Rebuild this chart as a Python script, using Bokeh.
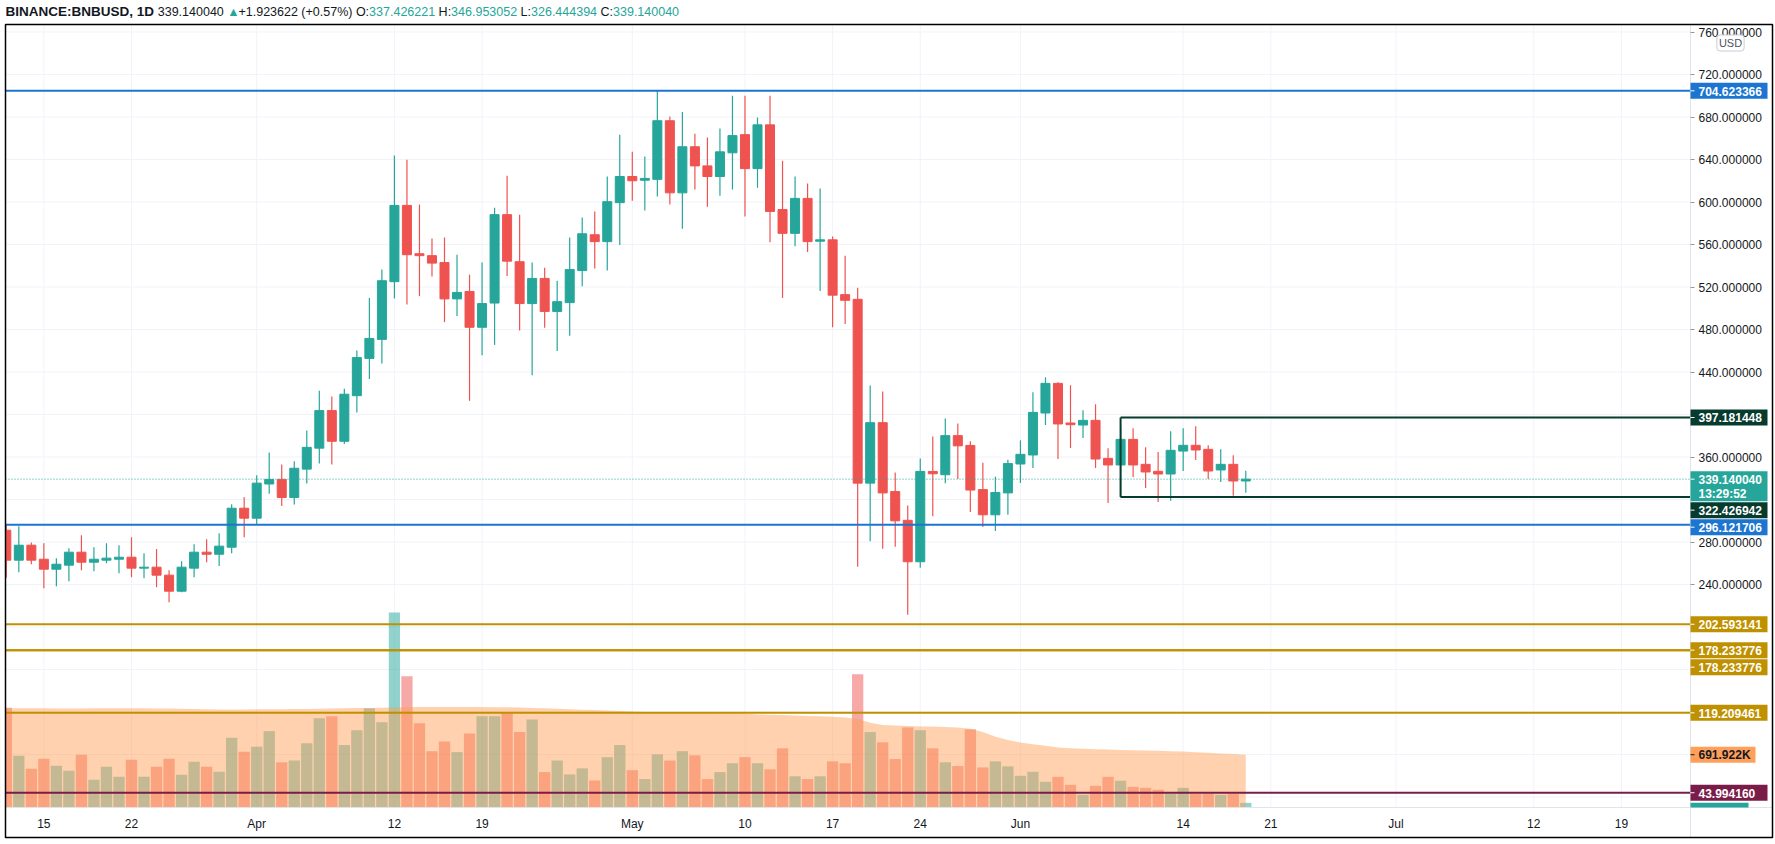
import pandas as pd
from bokeh.plotting import figure
from bokeh.models import Range1d, LinearAxis, FixedTicker, PrintfTickFormatter, ColumnDataSource
from bokeh.core.properties import value
from bokeh.embed import file_html
from bokeh.resources import INLINE

# ---------------- data ----------------
start_date = "2021-03-12"
opens = [291.1, 262.9, 277.0, 263.8, 254.4, 258.2, 270.4, 261.0, 262.9, 263.8,
         265.7, 255.4, 256.3, 248.8, 233.7, 255.4, 270.4, 268.5, 275.1, 311.8,
         302.4, 334.6, 338.9, 321.9, 348.6, 368.3, 403.7, 374.8, 417.7, 452.8,
         470.7, 525.0, 596.8, 551.3, 549.5, 543.0, 508.8, 515.8, 482.1, 504.9,
         588.1, 543.8, 504.4, 528.1, 497.0, 505.3, 535.5, 569.2, 562.7, 599.4,
         624.0, 620.5, 621.3, 676.5, 608.6, 652.0, 634.0, 624.0, 646.3, 663.4,
         631.4, 672.6, 592.9, 570.5, 603.4, 563.1, 564.4, 512.8, 508.4, 335.4,
         392.3, 327.5, 300.4, 261.4, 346.4, 343.3, 380.1, 370.9, 329.3, 305.6,
         326.2, 353.4, 361.9, 401.4, 429.3, 392.0, 390.1, 394.5, 358.7, 352.5,
         376.6, 353.1, 346.5, 344.0, 365.6, 371.0, 367.2, 347.8, 353.1, 337.426221]
highs = [297.0, 294.9, 279.5, 278.9, 264.8, 274.2, 286.4, 275.1, 278.9, 277.0,
         284.5, 269.5, 273.3, 253.5, 262.0, 278.0, 282.7, 288.3, 315.6, 322.2,
         342.9, 364.3, 352.9, 356.0, 384.9, 422.4, 416.9, 424.3, 460.2, 509.7,
         536.4, 643.7, 639.7, 597.7, 565.7, 566.6, 550.4, 531.6, 543.0, 594.6,
         624.8, 588.1, 543.0, 538.1, 525.9, 566.6, 585.4, 591.1, 624.0, 663.4,
         647.2, 642.8, 704.5, 680.4, 684.8, 664.2, 660.7, 669.1, 700.1, 700.1,
         679.6, 700.1, 638.8, 624.0, 617.4, 612.6, 567.5, 549.5, 519.4, 427.4,
         421.7, 345.5, 314.4, 358.6, 379.2, 396.3, 391.5, 374.8, 354.7, 341.5,
         357.3, 375.7, 420.9, 435.0, 430.3, 427.5, 403.9, 409.6, 368.2, 390.0,
         387.0, 369.1, 364.7, 384.2, 387.0, 388.9, 371.0, 367.2, 361.6, 346.953052]
lows = [246.3, 251.6, 259.1, 236.5, 238.4, 243.1, 253.5, 252.5, 260.1, 250.7,
        246.9, 246.0, 237.5, 223.4, 232.8, 246.9, 261.0, 257.3, 269.5, 284.5,
        296.8, 325.4, 314.0, 315.3, 335.0, 353.8, 352.9, 372.2, 402.0, 433.5,
        448.0, 509.2, 503.6, 511.4, 529.8, 486.9, 492.6, 412.9, 455.8, 465.5,
        530.3, 479.0, 437.0, 481.7, 459.8, 474.2, 520.6, 537.3, 535.5, 559.6,
        601.2, 592.0, 605.1, 597.7, 574.9, 611.7, 595.5, 606.0, 611.7, 586.3,
        613.5, 562.2, 509.7, 558.3, 553.0, 516.3, 482.1, 485.2, 256.6, 280.7,
        273.7, 275.5, 211.5, 255.7, 304.3, 335.4, 339.4, 308.3, 294.2, 290.3,
        305.6, 335.5, 349.6, 390.1, 358.1, 368.5, 377.9, 349.6, 316.7, 322.0,
        341.2, 330.8, 317.6, 318.9, 346.8, 357.2, 339.3, 336.5, 323.6, 326.444394]
closes = [262.9, 277.0, 262.9, 254.4, 259.1, 270.4, 261.0, 263.8, 264.8, 265.7,
          255.4, 256.3, 248.8, 233.7, 256.3, 270.4, 268.5, 276.1, 311.8, 302.4,
          335.4, 338.9, 321.9, 349.4, 369.1, 403.7, 374.8, 419.1, 453.6, 471.6,
          525.9, 596.8, 550.4, 549.5, 542.5, 508.8, 514.9, 482.1, 504.4, 588.1,
          544.3, 504.4, 528.1, 497.0, 506.2, 536.4, 570.1, 562.7, 600.3, 624.0,
          620.0, 622.2, 676.5, 608.6, 652.0, 634.0, 624.0, 647.2, 662.5, 631.4,
          672.6, 591.1, 570.5, 603.4, 562.7, 564.4, 512.3, 507.5, 335.4, 392.3,
          326.2, 299.9, 261.4, 346.4, 344.2, 380.1, 370.5, 328.9, 305.6, 326.6,
          353.8, 362.5, 402.0, 429.3, 391.1, 390.4, 394.5, 358.1, 352.5, 376.6,
          352.5, 345.9, 344.0, 366.3, 371.0, 366.6, 346.8, 353.1, 337.4, 339.140040]
volumes_k = [1284, 666, 498, 627, 537, 472, 679, 356, 524, 395,
             614, 395, 524, 627, 421, 588, 524, 460, 897, 717,
             784, 984, 582, 605, 827, 1151, 1175, 804, 995, 1277,
             1097, 2512, 1691, 1085, 725, 851, 713, 953, 1175, 1175,
             1229, 971, 1133, 456, 605, 426, 504, 348, 648, 804,
             480, 366, 684, 605, 725, 672, 366, 456, 570, 648,
             570, 492, 762, 402, 366, 402, 594, 570, 1715, 971,
             840, 624, 1031, 995, 762, 582, 534, 1007, 516, 594,
             530, 408, 460, 331, 395, 292, 163, 279, 395, 344,
             266, 253, 228, 176, 253, 176, 176, 163, 176, 60]
volume_ma_k = [1278, 1278, 1277, 1277, 1276, 1276, 1276, 1277, 1277, 1278,
               1278, 1277, 1276, 1275, 1272, 1268, 1265, 1262, 1262, 1263,
               1264, 1265, 1266, 1268, 1270, 1273, 1276, 1278, 1280, 1282,
               1284, 1287, 1292, 1294, 1295, 1296, 1296, 1295, 1294, 1292,
               1290, 1287, 1283, 1278, 1272, 1266, 1260, 1255, 1250, 1243,
               1236, 1230, 1227, 1224, 1221, 1219, 1217, 1215, 1213, 1211,
               1198, 1195, 1190, 1185, 1180, 1175, 1170, 1160, 1140, 1091,
               1061, 1055, 1050, 1043, 1043, 1037, 1031, 1013, 971, 912,
               870, 837, 816, 794, 773, 764, 756, 751, 746, 742,
               738, 734, 730, 725, 720, 712, 705, 697, 688, 680]

blue_levels = [704.623366, 296.121706]
gold_levels = [202.593141, 178.233776, 178.233776, 119.209461]
maroon_levels = [43.994160]
range_box = {"start": "2021-06-09", "top": 397.181448, "bottom": 322.426942}
last_price = 339.140040
countdown = "13:29:52"
volume_ma_label = "691.922K"

price_ticks = [240, 280, 360, 440, 480, 520, 560, 600, 640, 680, 720, 760]
grid_prices = list(range(40, 800, 40))
date_ticks = ["2021-03-15", "2021-03-22", "2021-04-01", "2021-04-12", "2021-04-19",
              "2021-05-01", "2021-05-10", "2021-05-17", "2021-05-24", "2021-06-01",
              "2021-06-14", "2021-06-21", "2021-07-01", "2021-07-12", "2021-07-19"]
date_tick_labels = ["15", "22", "Apr", "12", "19", "May", "10", "17", "24", "Jun",
                    "14", "21", "Jul", "12", "19"]

header_pieces = [("BINANCE:BNBUSD, 1D ", "dark", True), ("339.140040 ", "dark", False),
                 ("\u25b2 ", "up", False), ("+1.923622 (+0.57%) ", "dark", False),
                 ("O:", "dark", False), ("337.426221 ", "up", False),
                 ("H:", "dark", False), ("346.953052 ", "up", False),
                 ("L:", "dark", False), ("326.444394 ", "up", False),
                 ("C:", "dark", False), ("339.140040", "up", False)]

# ---------------- layout (pixels of the 1775x844 page) ----------------
W, H = 1775, 844
X0_PX, DAY_PX = 5.8, 12.52
P360_PX, PRICE_PX = 456.5, 1.0625
VOL_BASE_PX, VOL_K_PER_PX = 807.0, 12.88
LEFT, TOP, RIGHT, BOTTOM = 5, 24, 1772, 837
AXIS_X, TIME_Y = 1690, 807

UP, DOWN, DARK = "#26a69a", "#ef5350", "#131722"
BLUE, GOLD, MAROON, DKGREEN, ORANGE = "#1c75d0", "#bf9000", "#7a1c48", "#073b2e", "#ffa05a"
FONT = value("Liberation Sans")


def xd(px):
    return (px - X0_PX) / DAY_PX


def yd(px):
    return 360.0 + (P360_PX - px) / PRICE_PX


def py(price):
    return P360_PX - (price - 360.0) * PRICE_PX


def vpx(vol):
    return VOL_BASE_PX - vol / VOL_K_PER_PX


t0 = pd.Timestamp(start_date)
idx = list(range(len(opens)))
tick_idx = [(pd.Timestamp(d) - t0).days for d in date_ticks]
box_idx = (pd.Timestamp(range_box["start"]) - t0).days

p = figure(width=W, height=H, x_range=Range1d(xd(0), xd(W)), y_range=Range1d(yd(H), yd(0)),
           x_axis_type=None, y_axis_type=None, toolbar_location=None, output_backend="svg",
           min_border=0, outline_line_color=None, background_fill_color="white",
           border_fill_color="white")
p.title.visible = False
p.extra_y_ranges = {"vol": Range1d((VOL_BASE_PX - H) * VOL_K_PER_PX, VOL_BASE_PX * VOL_K_PER_PX)}

# grid
p.segment(x0=xd(LEFT), x1=xd(AXIS_X), y0=grid_prices, y1=grid_prices, line_color="#f0f3fa", line_width=1)
p.segment(x0=tick_idx, x1=tick_idx, y0=yd(TOP), y1=yd(TIME_Y), line_color="#f0f3fa", line_width=1)

# volume
colors = [UP if c >= o else DOWN for o, c in zip(opens, closes)]
vsrc = ColumnDataSource(dict(x=idx, v=volumes_k, color=colors))
p.vbar(x="x", top="v", bottom=0, width=0.9, source=vsrc, fill_color="color", fill_alpha=0.5,
       line_color=None, y_range_name="vol")
p.varea(x=idx, y1=[0] * len(idx), y2=volume_ma_k, fill_color="#ff9a4f", fill_alpha=0.46, y_range_name="vol")

# candles
csrc = ColumnDataSource(dict(x=idx, h=highs, l=lows, top=[max(o, c) for o, c in zip(opens, closes)],
                             bottom=[min(o, c) for o, c in zip(opens, closes)], color=colors))
p.segment(x0="x", x1="x", y0="l", y1="h", line_color="color", line_width=1.2, source=csrc)
p.vbar(x="x", top="top", bottom="bottom", width=0.72, fill_color="color", line_color="color",
       line_width=1, source=csrc)

# drawn levels
p.segment(x0=xd(LEFT), x1=xd(AXIS_X), y0=last_price, y1=last_price, line_color=UP, line_width=1,
          line_dash="1 2")
for lv, col in [(blue_levels, BLUE), (gold_levels, GOLD), (maroon_levels, MAROON)]:
    p.segment(x0=xd(LEFT), x1=xd(AXIS_X), y0=lv, y1=lv, line_color=col, line_width=2)
p.segment(x0=[box_idx, box_idx, box_idx], x1=[xd(AXIS_X), xd(AXIS_X), box_idx],
          y0=[range_box["top"], range_box["bottom"], range_box["bottom"]],
          y1=[range_box["top"], range_box["bottom"], range_box["top"]],
          line_color=DKGREEN, line_width=2)

# mask left of the chart box
p.quad(left=xd(-5), right=xd(LEFT), bottom=yd(H + 5), top=yd(-5), fill_color="white", line_color=None)

# separators and frame
p.segment(x0=xd(AXIS_X), x1=xd(AXIS_X), y0=yd(TOP), y1=yd(BOTTOM), line_color="#e0e3eb", line_width=1)
p.segment(x0=xd(LEFT), x1=xd(RIGHT), y0=yd(TIME_Y), y1=yd(TIME_Y), line_color="#e0e3eb", line_width=1)
p.quad(left=xd(LEFT), right=xd(RIGHT), bottom=yd(BOTTOM), top=yd(TOP), fill_color=None,
       line_color="black", line_width=1.5)

# axes
yaxis = LinearAxis(fixed_location=xd(AXIS_X), ticker=FixedTicker(ticks=price_ticks),
                   formatter=PrintfTickFormatter(format="%.6f"), axis_line_color=None,
                   major_tick_line_color="#9598a1", major_tick_out=4, major_tick_in=0,
                   minor_tick_line_color=None, major_label_standoff=4,
                   major_label_text_font_size="12px", major_label_text_color=DARK,
                   major_label_text_font="Liberation Sans")
p.add_layout(yaxis, "right")
xaxis = LinearAxis(fixed_location=yd(TIME_Y), ticker=FixedTicker(ticks=tick_idx),
                   major_label_overrides={t: s for t, s in zip(tick_idx, date_tick_labels)},
                   axis_line_color=None, major_tick_line_color=None, major_tick_in=0, major_tick_out=0,
                   minor_tick_line_color=None, major_label_standoff=9,
                   major_label_text_font_size="12px", major_label_text_color=DARK,
                   major_label_text_font="Liberation Sans")
p.add_layout(xaxis, "below")

# price-scale badges
badges = [(py(blue_levels[0]), ["%.6f" % blue_levels[0]], BLUE, "white", 1767),
          (py(range_box["top"]), ["%.6f" % range_box["top"]], DKGREEN, "white", 1767),
          (py(last_price), ["%.6f" % last_price, countdown], UP, "white", 1767),
          (py(range_box["bottom"]), ["%.6f" % range_box["bottom"]], DKGREEN, "white", 1767),
          (py(blue_levels[1]), ["%.6f" % blue_levels[1]], BLUE, "white", 1767)]
badges += [(py(v), ["%.6f" % v], GOLD, "white", 1767) for v in gold_levels]
badges.append((vpx(volume_ma_k[-1]), [volume_ma_label], ORANGE, DARK, 1755))
badges += [(py(v), ["%.6f" % v], MAROON, "white", 1767) for v in maroon_levels]
badges.sort(key=lambda b: b[0])
prev_bottom = -100
bq = dict(left=[], right=[], top=[], bottom=[], color=[])
bt = dict(x=[], y=[], text=[], color=[])
bticks = dict(y=[], color=[])
for cy, lines, bg, fg, right in badges:
    top_px = max(cy - 8, prev_bottom + 1)
    h_px = 16 + 14 * (len(lines) - 1)
    prev_bottom = top_px + h_px
    bq["left"].append(xd(AXIS_X)); bq["right"].append(xd(right))
    bq["top"].append(yd(top_px)); bq["bottom"].append(yd(top_px + h_px)); bq["color"].append(bg)
    for i, s in enumerate(lines):
        bt["x"].append(xd(1698)); bt["y"].append(yd(top_px + 8.5 + 14 * i))
        bt["text"].append(s); bt["color"].append(fg)
    bticks["y"].append(yd(top_px + 8)); bticks["color"].append(fg)
# last volume badge, mostly hidden below the pane edge
bq["left"].append(xd(AXIS_X)); bq["right"].append(xd(1748))
bq["top"].append(yd(prev_bottom + 2)); bq["bottom"].append(yd(TIME_Y)); bq["color"].append(UP)
p.quad(left="left", right="right", top="top", bottom="bottom", fill_color="color", line_color=None,
       source=ColumnDataSource(bq), level="overlay")
p.segment(x0=xd(AXIS_X), x1=xd(AXIS_X + 4), y0="y", y1="y", line_color="color", line_width=1,
          source=ColumnDataSource(bticks), level="overlay")
p.text(x="x", y="y", text="text", text_color="color", text_font=FONT, text_font_size="12px",
       text_font_style="bold", text_align="left", text_baseline="middle",
       source=ColumnDataSource(bt), level="overlay")

# USD badge
p.text(x=[xd(1730)], y=[yd(42.5)], text=["USD"], text_font=FONT, text_font_size="11px", text_color="#50535e",
       text_align="center", text_baseline="middle", background_fill_color="white",
       border_line_color="#c9ccd5", border_line_width=1, padding=2, border_radius=3, level="overlay")

# header legend
REG = {".": .278, ":": .278, "+": .584, "(": .333, ")": .333, "%": .889, " ": .278, ",": .278,
       "O": .778, "H": .722, "L": .556, "C": .722, "\u25b2": .62}
BOLD = {".": .278, ":": .333, " ": .278, ",": .278, "B": .722, "I": .278, "N": .722, "A": .722,
        "C": .722, "E": .667, "U": .722, "S": .667, "D": .722}
HEAD_PX = {True: 13.5, False: 12.5}
x_cursor = 5.0
hsrc = {True: dict(x=[], text=[], color=[]), False: dict(x=[], text=[], color=[])}
for text, col, bold in header_pieces:
    table = BOLD if bold else REG
    hsrc[bold]["x"].append(xd(x_cursor)); hsrc[bold]["text"].append(text)
    hsrc[bold]["color"].append(UP if col == "up" else DARK)
    x_cursor += sum(table.get(ch, .556) for ch in text) * HEAD_PX[bold]
for bold in (True, False):
    d = hsrc[bold]
    d["y"] = [yd(11)] * len(d["x"])
    p.text(x="x", y="y", text="text", text_color="color", text_font=FONT,
           text_font_size="%.1fpx" % HEAD_PX[bold], text_font_style="bold" if bold else "normal",
           text_align="left", text_baseline="middle", source=ColumnDataSource(d))

open("out.html", "w").write(file_html(p, INLINE))
